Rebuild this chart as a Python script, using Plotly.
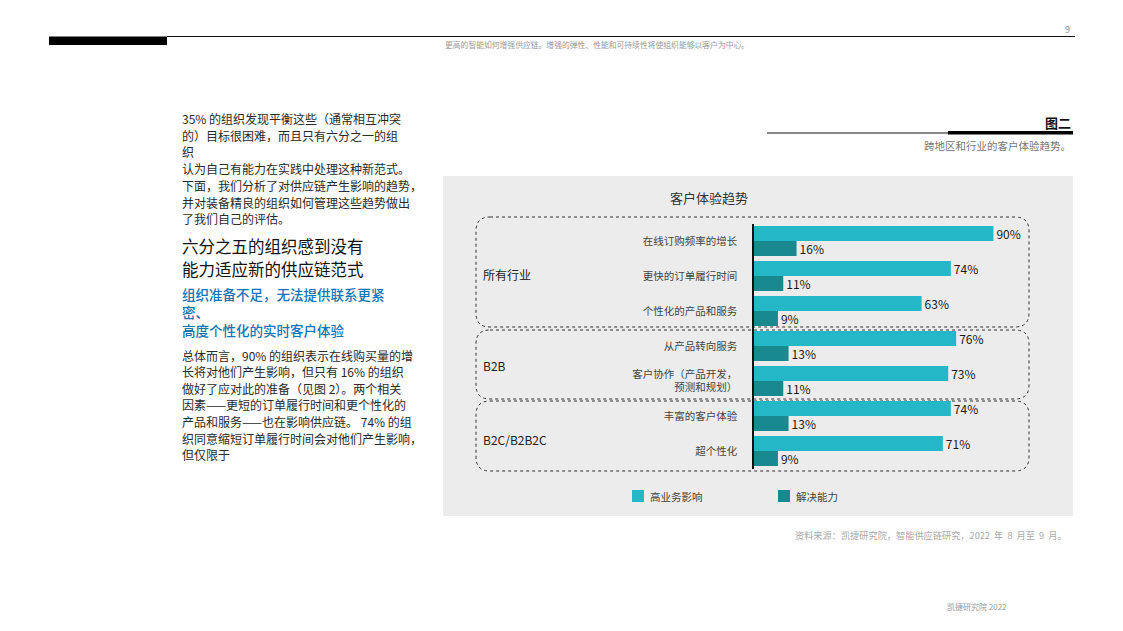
import plotly.graph_objects as go

W, H = 1123, 631
FONT = "Noto Sans CJK SC"

# ---------------- data ----------------
categories = ["在线订购频率的增长", "更快的订单履行时间", "个性化的产品和服务",
              "从产品转向服务", "客户协作（产品开发，<br>预测和规划）",
              "丰富的客户体验", "超个性化"]
impact = [90, 74, 63, 76, 73, 74, 71]
readiness = [16, 11, 9, 13, 11, 13, 9]
series_names = ["高业务影响", "解决能力"]
groups = ["所有行业", "B2B", "B2C/B2B2C"]

para1 = ["35% 的组织发现平衡这些（通常相互冲突",
         "的）目标很困难，而且只有六分之一的组",
         "织",
         "认为自己有能力在实践中处理这种新范式。",
         "下面，我们分析了对供应链产生影响的趋势，",
         "并对装备精良的组织如何管理这些趋势做出",
         "了我们自己的评估。"]
heading = ["六分之五的组织感到没有", "能力适应新的供应链范式"]
subheading = ["组织准备不足，无法提供联系更紧", "密、", "高度个性化的实时客户体验"]
para2 = ["总体而言，90% 的组织表示在线购买量的增",
         "长将对他们产生影响，但只有 16% 的组织",
         "做好了应对此的准备（见图 2）。两个相关",
         "因素——更短的订单履行时间和更个性化的",
         "产品和服务——也在影响供应链。 74% 的组",
         "织同意缩短订单履行时间会对他们产生影响，",
         "但仅限于"]

LIGHT = "#23b7c7"
DARK = "#17898f"


def X(px):
    return px / W


def Y(py):
    return 1 - py / H


fig = go.Figure()
fig.add_trace(go.Bar(y=categories, x=impact, orientation="h", name=series_names[0],
                     marker=dict(color=LIGHT, line=dict(width=0)),
                     text=[f"{v}%" for v in impact], textposition="outside",
                     constraintext="none", cliponaxis=False,
                     textfont=dict(size=12, color="#1a1a1a", family=FONT)))
fig.add_trace(go.Bar(y=categories, x=readiness, orientation="h", name=series_names[1],
                     marker=dict(color=DARK, line=dict(width=0)),
                     text=[f"{v}%" for v in readiness], textposition="outside",
                     constraintext="none", cliponaxis=False,
                     textfont=dict(size=12, color="#1a1a1a", family=FONT)))

ax0 = 754
pxper = 2.66
fig.update_layout(
    width=W, height=H, autosize=False,
    margin=dict(l=0, r=0, t=0, b=0),
    paper_bgcolor="white", plot_bgcolor="rgba(0,0,0,0)",
    barmode="group", bargap=0.143, bargroupgap=0,
    showlegend=False,
    font=dict(family=FONT),
    xaxis=dict(domain=[X(ax0), X(ax0 + 100 * pxper)], range=[0, 100], visible=False,
               fixedrange=True),
    yaxis=dict(domain=[Y(468.5), Y(223.5)], type="category", autorange="reversed",
               showline=True, linecolor="#111", linewidth=1.5, ticks="",
               showgrid=False, zeroline=False, ticklabelstandoff=13,
               tickfont=dict(size=10.5, color="#444", family=FONT)),
)

shapes = []
# gray panel
shapes.append(dict(type="rect", xref="paper", yref="paper", x0=X(443), x1=X(1073),
                   y0=Y(516), y1=Y(176), fillcolor="#ececec", line=dict(width=0),
                   layer="below"))


def rr(x0, y0, x1, y1, r):
    p = (f"M {X(x0 + r)},{Y(y0)} L {X(x1 - r)},{Y(y0)} "
         f"Q {X(x1)},{Y(y0)} {X(x1)},{Y(y0 + r)} L {X(x1)},{Y(y1 - r)} "
         f"Q {X(x1)},{Y(y1)} {X(x1 - r)},{Y(y1)} L {X(x0 + r)},{Y(y1)} "
         f"Q {X(x0)},{Y(y1)} {X(x0)},{Y(y1 - r)} L {X(x0)},{Y(y0 + r)} "
         f"Q {X(x0)},{Y(y0)} {X(x0 + r)},{Y(y0)} Z")
    return dict(type="path", xref="paper", yref="paper", path=p,
                line=dict(color="#333", width=1, dash="dot"), layer="below")


for (a, b) in [(217, 327), (330, 399), (401, 471)]:
    shapes.append(rr(476, a, 1029, b, 14))

# top rule + black block
shapes.append(dict(type="line", xref="paper", yref="paper", x0=X(167), x1=X(1075),
                   y0=Y(36.5), y1=Y(36.5), line=dict(color="#111", width=1)))
shapes.append(dict(type="rect", xref="paper", yref="paper", x0=X(49), x1=X(167),
                   y0=Y(45), y1=Y(36.5), fillcolor="#000", line=dict(width=0)))
# figure rule
shapes.append(dict(type="line", xref="paper", yref="paper", x0=X(767), x1=X(1073),
                   y0=Y(133), y1=Y(133), line=dict(color="#111", width=1)))
shapes.append(dict(type="rect", xref="paper", yref="paper", x0=X(948), x1=X(1073),
                   y0=Y(134.5), y1=Y(131), fillcolor="#000", line=dict(width=0)))
# legend squares
for xs, col in [(632, LIGHT), (778, DARK)]:
    shapes.append(dict(type="rect", xref="paper", yref="paper", x0=X(xs), x1=X(xs + 12),
                       y0=Y(502), y1=Y(490), fillcolor=col, line=dict(width=0)))

anns = []


def ann(text, x, y, size, color, xanchor="left", weight=None):
    f = dict(family=FONT, size=size, color=color)
    if weight:
        f["weight"] = weight
    anns.append(dict(text=text, x=X(x), y=Y(y), xref="paper", yref="paper",
                     xanchor=xanchor, yanchor="middle", showarrow=False, font=f))


# header
ann("更高的智能如何增强供应链。增强的弹性、性能和可持续性将使组织能够以客户为中心。",
    597, 44, 7.8, "#9a9a9a", "center")
ann("9", 1072, 30, 9, "#8a8a8a", "right")

# left column
for i, t in enumerate(para1):
    ann(t, 180, 118.5 + i * 16.7, 12, "#2a2a2a")
for i, t in enumerate(heading):
    ann(t, 180, 246 + i * 22.5, 16.5, "#111")
for i, t in enumerate(subheading):
    ann(t, 180, 293.5 + i * 18.2, 13.5, "#1474b4", weight=500)
for i, t in enumerate(para2):
    ann(t, 180, 355 + i * 16.6, 12, "#2a2a2a")

# figure heading
ann("<b>图二</b>", 1073, 122, 13, "#111", "right")
ann("跨地区和行业的客户体验趋势。", 1073, 146, 10.5, "#777", "right")
ann("客户体验趋势", 709, 197, 13, "#333", "center")

# group labels
for g, yy in zip(groups, [274, 366, 439]):
    ann(g, 481, yy, 12, "#222")

# legend text
ann(series_names[0], 648, 496, 10.5, "#444")
ann(series_names[1], 794, 496, 10.5, "#444")

# footnotes
ann("资料来源：凯捷研究院，智能供应链研究，2022&nbsp; 年&nbsp; 8&nbsp; 月至&nbsp; 9&nbsp; 月。",
    1069, 535, 9.2, "#aaaaaa", "right")
ann("凯捷研究院 2022", 945, 606, 8, "#9a9a9a")

fig.update_layout(shapes=shapes, annotations=anns)
fig.write_html("out.html")
